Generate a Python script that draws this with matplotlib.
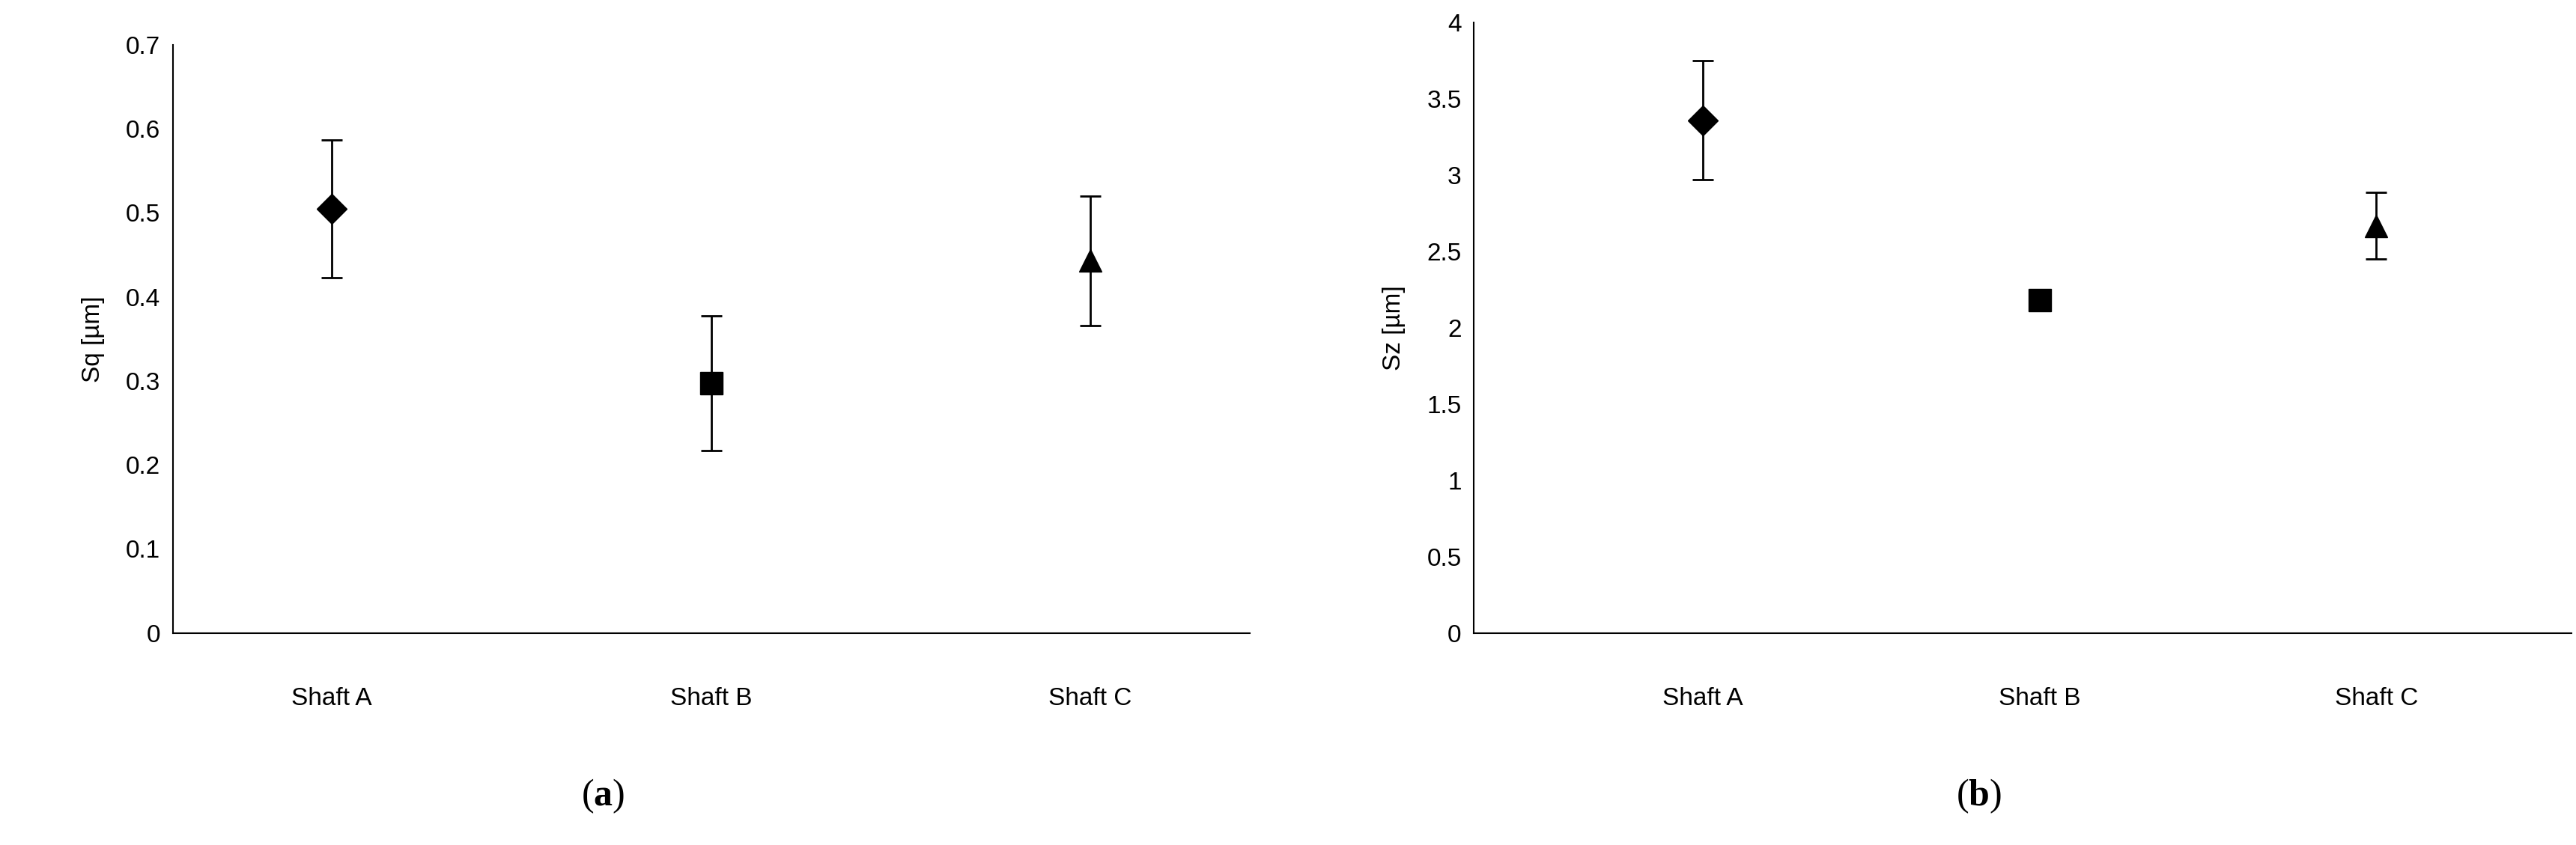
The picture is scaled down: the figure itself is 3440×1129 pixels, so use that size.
import matplotlib
matplotlib.use("Agg")
import matplotlib.pyplot as plt
import numpy as np

shafts = ["Shaft A", "Shaft B", "Shaft C"]
sq = [0.505, 0.297, 0.443]
sq_err = [0.082, 0.080, 0.077]
sz = [3.36, 2.18, 2.67]
sz_err = [0.39, 0.0, 0.22]
markers = ["D", "s", "^"]

plt.rcParams['font.family'] = ['Liberation Sans', 'DejaVu Sans']
plt.rcParams['mathtext.fontset'] = 'custom'
plt.rcParams['mathtext.rm'] = 'Liberation Serif'
plt.rcParams['mathtext.bf'] = 'Liberation Serif:bold'
fig = plt.figure(figsize=(34.41, 11.29), dpi=100)

def panel(rect, vals, errs, ylim, step, ylabel, xlim, caption, cx):
    ax = fig.add_axes(rect)
    for i, (v, e, m) in enumerate(zip(vals, errs, markers)):
        ms = 20 if m == "D" else 21
        ax.errorbar(i, v, yerr=e if e > 0 else None, fmt=m, color='black', ms=ms,
                    ecolor='black', elinewidth=2, capsize=10, capthick=2)
    ax.set_ylim(*ylim)
    ax.set_xlim(*xlim)
    ticks = np.arange(0, ylim[1] + 1e-9, step)
    ax.set_yticks(ticks)
    ax.set_yticklabels([f"{t:g}" for t in ticks])
    ax.set_xticks(range(3))
    ax.set_xticklabels(shafts)
    ax.tick_params(axis='x', length=0, pad=52, labelsize=24)
    ax.tick_params(axis='y', length=0, pad=12, labelsize=24)
    for s in ['top', 'right']:
        ax.spines[s].set_visible(False)
    for s in ['left', 'bottom']:
        ax.spines[s].set_linewidth(1.5)
    ax.set_ylabel(ylabel, fontsize=24, labelpad=20)
    fig.text(cx, 0.035, r"$\mathrm{(}\mathbf{" + caption + r"}\mathrm{)}$", fontsize=36,
             ha='center', va='bottom')
    return ax

panel([0.067, 0.251, 0.418, 0.696], sq, sq_err, (0, 0.7), 0.1, "Sq [µm]", (-0.42, 2.42), "a", 0.234)
panel([0.572, 0.251, 0.426, 0.722], sz, sz_err, (0, 4), 0.5, "Sz [µm]", (-0.68, 2.58), "b", 0.768)

fig.savefig("out.png", dpi=100)
